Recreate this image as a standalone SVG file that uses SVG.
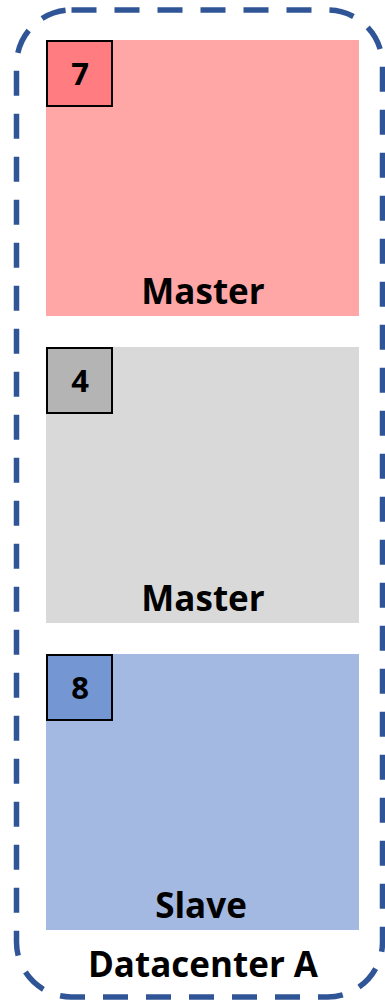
<svg xmlns="http://www.w3.org/2000/svg" width="385" height="1003" viewBox="0 0 385 1003">
<style>
.lbl{font-family:"Open Sans","Liberation Sans",sans-serif;font-weight:bold;font-size:35px;fill:#000;text-anchor:middle}
.num{font-family:"Open Sans","Liberation Sans",sans-serif;font-weight:bold;font-size:31px;fill:#000;text-anchor:middle}
.badge{stroke:#000;stroke-width:2}
</style>
<rect width="385" height="1003" fill="#fff"/>
<g id="datacenter-a">
<rect x="16.5" y="10" width="366" height="987" rx="55" ry="55" fill="none" stroke="#2F5597" stroke-width="5.5" stroke-dasharray="25 18"/>
<text class="lbl" x="203" y="977">Datacenter A</text>
</g>
<g id="node-7">
<rect x="46" y="40" width="313" height="276" fill="#FFA6A6"/>
<rect class="badge" x="47" y="41" width="65" height="65" fill="#FF7C80"/>
<text class="num" x="80" y="85">7</text>
<text class="lbl" x="203" y="304">Master</text>
</g>
<g id="node-4">
<rect x="46" y="347" width="313" height="276" fill="#D9D9D9"/>
<rect class="badge" x="47" y="348" width="65" height="65" fill="#B4B4B4"/>
<text class="num" x="80" y="392">4</text>
<text class="lbl" x="203" y="611">Master</text>
</g>
<g id="node-8">
<rect x="46" y="654" width="313" height="276" fill="#A3B9E1"/>
<rect class="badge" x="47" y="655" width="65" height="65" fill="#7496D2"/>
<text class="num" x="80" y="699">8</text>
<text class="lbl" x="201" y="918">Slave</text>
</g>
<g id="connectors"></g>
</svg>
